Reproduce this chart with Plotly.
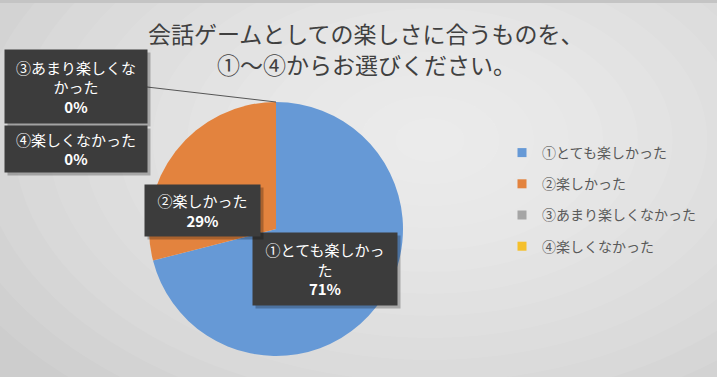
import plotly.graph_objects as go

# ---- data ----
labels = ["①とても楽しかった", "②楽しかった", "③あまり楽しくなかった", "④楽しくなかった"]
values = [71, 29, 0, 0]
colors = ["#6699D6", "#E3833E", "#A5A5A5", "#F5C02C"]
title_lines = ["会話ゲームとしての楽しさに合うものを、", "①～④からお選びください。"]

W, H = 717, 387
FONT = "Noto Sans CJK JP"


def px(x):
    return x / W


def py(y):
    return 1 - y / H


def wrap(s, n=8):
    return "<br>".join(s[i:i + n] for i in range(0, len(s), n))


total = sum(values)
pcts = [round(v / total * 100) for v in values]

# pie geometry (pixels)
cx, cy, r = 276, 229, 127

fig = go.Figure()
fig.add_trace(go.Pie(
    labels=labels, values=values, sort=False, direction="clockwise", rotation=0,
    marker=dict(colors=colors, line=dict(width=0)),
    textinfo="none", hoverinfo="label+percent", showlegend=False,
    domain=dict(x=[px(cx - r), px(cx + r)], y=[py(cy + r), py(cy - r)]),
))

# legend entries
for lab, col in zip(labels, colors):
    fig.add_trace(go.Scatter(
        x=[None], y=[None], mode="markers", name=lab, legendgroup=lab,
        marker=dict(symbol="square", size=9, color=col),
    ))

# background radial gradient
shapes = []
gx, gy, rx, ry = 430, 140, 520, 330
N = 15
for i in range(N):
    f = 1 - i / N
    shapes.append(dict(type="circle", xref="paper", yref="paper", layer="below",
                       x0=px(gx - rx * f), x1=px(gx + rx * f),
                       y0=py(gy + ry * f), y1=py(gy - ry * f),
                       fillcolor="rgba(255,255,255,0.075)", line=dict(width=0)))
# thin border line at top, white strip at bottom
shapes.append(dict(type="rect", xref="paper", yref="paper", layer="below",
                   x0=0, x1=1, y0=py(3), y1=1, fillcolor="#c4c4c4", line=dict(width=0)))
shapes.append(dict(type="rect", xref="paper", yref="paper", layer="below",
                   x0=0, x1=1, y0=0, y1=py(377), fillcolor="white", line=dict(width=0)))
# leader line from label 3 box to pie
shapes.append(dict(type="line", xref="paper", yref="paper", layer="above",
                   x0=px(147), y0=py(87), x1=px(cx), y1=py(cy - r),
                   line=dict(color="#555555", width=1)))

annotations = []
for line, ty in zip(title_lines, [33, 64]):
    annotations.append(dict(
        text=line, x=px(366), y=py(ty), xref="paper", yref="paper",
        showarrow=False, font=dict(family=FONT, size=23, color="#404040"),
        xanchor="center", yanchor="middle"))

# data label boxes: (center x, center y, width, height)
boxes = [(325, 269, 144, 72), (202, 210, 115, 51), (76, 86, 142, 73), (76, 149, 142, 46)]
for lab, p, (bx, by, bw, bh) in zip(labels, pcts, boxes):
    txt = wrap(lab) + "<br><b>%d%%</b>" % p
    annotations.append(dict(
        text="", x=px(bx + 3), y=py(by + 3), xref="paper", yref="paper", showarrow=False,
        width=bw, height=bh, bgcolor="rgba(0,0,0,0.25)", borderpad=0,
        xanchor="center", yanchor="middle"))
    annotations.append(dict(
        text=txt, x=px(bx), y=py(by), xref="paper", yref="paper", showarrow=False,
        width=bw, height=bh, bgcolor="#3c3c3c", borderpad=0,
        font=dict(family=FONT, size=15, color="white"),
        xanchor="center", yanchor="middle"))

fig.update_layout(
    width=W, height=H, margin=dict(l=0, r=0, t=0, b=0),
    paper_bgcolor="#cdcdcd", plot_bgcolor="rgba(0,0,0,0)",
    xaxis=dict(visible=False), yaxis=dict(visible=False),
    shapes=shapes, annotations=annotations,
    legend=dict(x=px(502), y=py(137), xanchor="left", yanchor="top",
                font=dict(family=FONT, size=14, color="#595959"),
                bgcolor="rgba(0,0,0,0)", tracegroupgap=10, itemwidth=30),
    font=dict(family=FONT),
)

fig.write_html("out.html", config={"displayModeBar": False},
               post_script="document.body.style.margin='0';")
